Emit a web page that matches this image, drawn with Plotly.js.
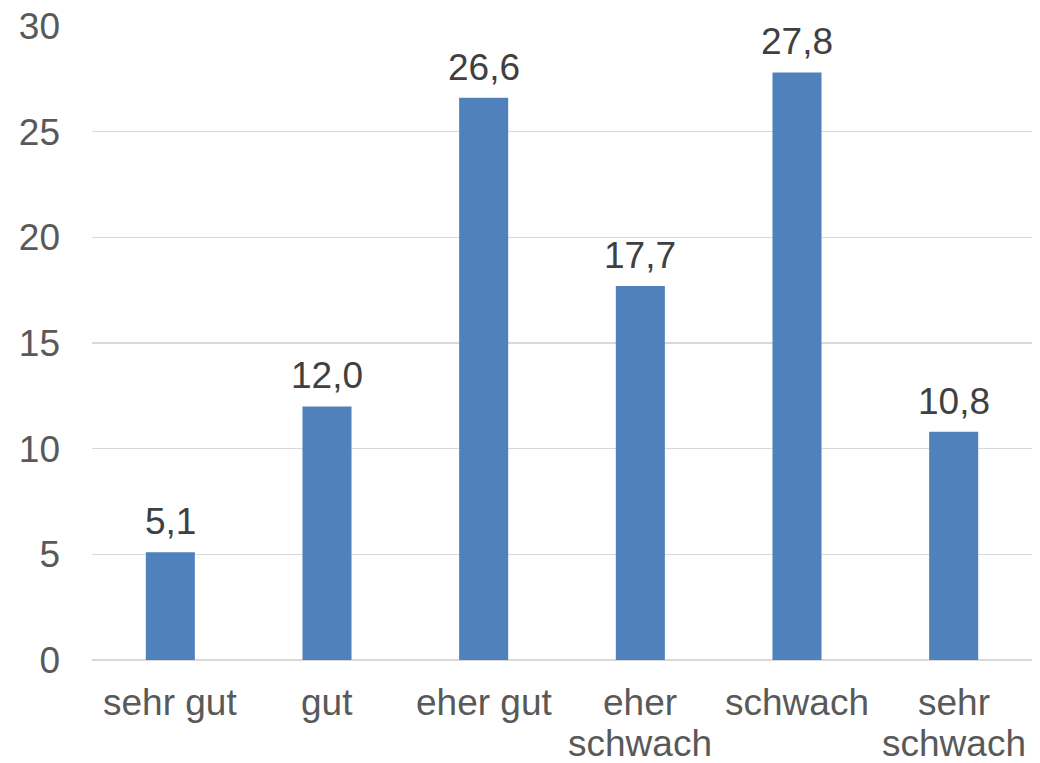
<!DOCTYPE html>
<html>
<head>
<meta charset="utf-8">
<script src="https://cdn.plot.ly/plotly-3.0.1.min.js"></script>
<style>
  html, body { margin: 0; padding: 0; background: #ffffff; }
  #chart { width: 1040px; height: 763px; }
</style>
</head>
<body>
<div id="chart"></div>
<script>
// Ratings and their shares in percent
const categories = ['sehr gut', 'gut', 'eher gut', 'eher schwach', 'schwach', 'sehr schwach'];
const categoryLines = [['sehr gut'], ['gut'], ['eher gut'], ['eher', 'schwach'], ['schwach'], ['sehr', 'schwach']];
const values = [5.1, 12.0, 26.6, 17.7, 27.8, 10.8];
const yTicks = [0, 5, 10, 15, 20, 25, 30];

const FONT = 'Liberation Sans, Arial, sans-serif';
const SIZE = 37;
const LINE_GAP = 41;

const fmt = v => v.toFixed(1).replace('.', ',');

const trace = {
  type: 'bar',
  x: categories,
  y: values,
  marker: { color: '#4f81bd' },
  hoverinfo: 'skip'
};

// value labels above the bars
const valueLabels = categories.map((c, i) => ({
  x: c,
  y: values[i],
  xref: 'x',
  yref: 'y',
  text: fmt(values[i]),
  showarrow: false,
  yanchor: 'bottom',
  yshift: 8,
  font: { family: FONT, size: SIZE, color: '#404040' }
}));

// category labels under the axis, one annotation per text line
const categoryLabels = [];
categories.forEach((c, i) => {
  categoryLines[i].forEach((line, k) => {
    categoryLabels.push({
      x: c,
      y: 0,
      xref: 'x',
      yref: 'paper',
      text: line,
      showarrow: false,
      yanchor: 'top',
      yshift: -20 - k * LINE_GAP,
      font: { family: FONT, size: SIZE, color: '#595959' }
    });
  });
});

const layout = {
  width: 1040,
  height: 763,
  margin: { l: 92, r: 8, t: 26, b: 103 },
  paper_bgcolor: '#ffffff',
  plot_bgcolor: '#ffffff',
  separators: ',.',
  showlegend: false,
  bargap: 0.687,
  font: { family: FONT, size: SIZE, color: '#595959' },
  xaxis: {
    type: 'category',
    showgrid: false,
    zeroline: false,
    showline: false,
    ticks: '',
    showticklabels: false
  },
  yaxis: {
    range: [0, 30],
    tickvals: yTicks,
    ticktext: yTicks.map(String),
    showgrid: true,
    gridcolor: '#d9d9d9',
    gridwidth: 1.5,
    zeroline: true,
    zerolinecolor: '#d9d9d9',
    zerolinewidth: 1.5,
    showline: false,
    ticks: '',
    ticklabelstandoff: 31,
    tickfont: { family: FONT, size: SIZE, color: '#595959' }
  },
  annotations: valueLabels.concat(categoryLabels)
};

Plotly.newPlot('chart', [trace], layout, { displayModeBar: false, staticPlot: true });
</script>
</body>
</html>
